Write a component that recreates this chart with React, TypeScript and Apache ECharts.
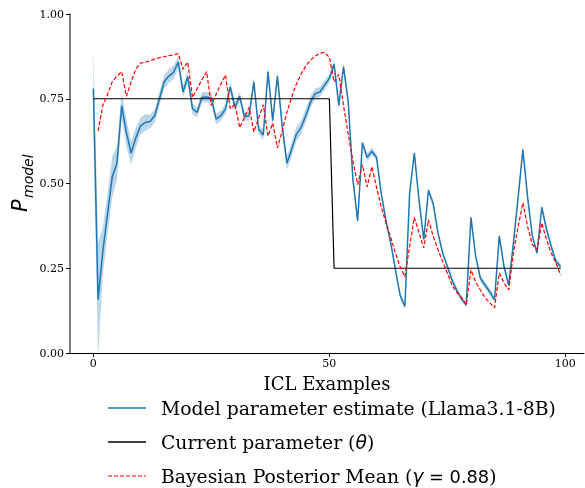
import React, { useEffect, useRef } from "react";
import * as echarts from "echarts";

const modelEstimate = [
  0.78, 0.157, 0.3, 0.41, 0.52, 0.56, 0.73, 0.65, 0.59, 0.635,
  0.67, 0.68, 0.683, 0.7, 0.75, 0.8, 0.817, 0.828, 0.858, 0.77,
  0.815, 0.72, 0.71, 0.754, 0.755, 0.752, 0.69, 0.7, 0.72, 0.785,
  0.725, 0.757, 0.697, 0.7, 0.8, 0.66, 0.643, 0.83, 0.685, 0.817,
  0.67, 0.56, 0.6, 0.645, 0.665, 0.7, 0.74, 0.765, 0.77, 0.79,
  0.81, 0.852, 0.73, 0.845, 0.74, 0.51, 0.39, 0.62, 0.577, 0.595,
  0.577, 0.47, 0.39, 0.325, 0.245, 0.17, 0.137, 0.47, 0.59, 0.45,
  0.335, 0.48, 0.44, 0.355, 0.295, 0.255, 0.215, 0.185, 0.16, 0.142,
  0.4, 0.285, 0.22, 0.2, 0.18, 0.157, 0.345, 0.255, 0.2, 0.325,
  0.46, 0.6, 0.46, 0.345, 0.295, 0.43, 0.365, 0.315, 0.27, 0.255,
];

const modelCI = [
  0.12, 0.17, 0.07, 0.06, 0.06, 0.05, 0.04, 0.04, 0.035, 0.03,
  0.025, 0.025, 0.02, 0.02, 0.02, 0.02, 0.02, 0.02, 0.018, 0.018,
  0.016, 0.016, 0.016, 0.015, 0.015, 0.015, 0.015, 0.015, 0.015, 0.015,
  0.014, 0.014, 0.014, 0.014, 0.014, 0.014, 0.014, 0.014, 0.014, 0.014,
  0.018, 0.02, 0.02, 0.02, 0.02, 0.02, 0.018, 0.016, 0.015, 0.014,
  0.012, 0.012, 0.01, 0.01, 0.01, 0.01, 0.01, 0.01, 0.012, 0.012,
  0.01, 0.008, 0.008, 0.008, 0.008, 0.008, 0.008, 0.008, 0.008, 0.008,
  0.008, 0.01, 0.01, 0.008, 0.008, 0.008, 0.008, 0.008, 0.008, 0.008,
  0.008, 0.008, 0.01, 0.01, 0.01, 0.008, 0.008, 0.008, 0.008, 0.008,
  0.008, 0.01, 0.008, 0.008, 0.008, 0.008, 0.008, 0.008, 0.01, 0.01,
];

const posteriorStart = 1;
const posteriorMean = [
  0.655, 0.73, 0.763, 0.8, 0.817, 0.83, 0.757, 0.8, 0.837,
  0.855, 0.858, 0.862, 0.867, 0.871, 0.874, 0.877, 0.879, 0.883, 0.837,
  0.858, 0.754, 0.78, 0.806, 0.83, 0.73, 0.763, 0.793, 0.82, 0.72,
  0.735, 0.665, 0.695, 0.724, 0.652, 0.692, 0.732, 0.64, 0.678, 0.605,
  0.655, 0.71, 0.754, 0.793, 0.822, 0.847, 0.864, 0.876, 0.884, 0.887,
  0.872, 0.8, 0.822, 0.73, 0.645, 0.565, 0.497, 0.556, 0.49, 0.55,
  0.488, 0.43, 0.384, 0.34, 0.295, 0.255, 0.225, 0.314, 0.4, 0.355,
  0.31, 0.393, 0.344, 0.305, 0.27, 0.236, 0.2, 0.178, 0.163, 0.142,
  0.245, 0.21, 0.186, 0.163, 0.148, 0.133, 0.236, 0.207, 0.186, 0.296,
  0.373, 0.443, 0.373, 0.32, 0.305, 0.384, 0.334, 0.295, 0.266, 0.23,
];

const thetaPhaseStart = [0, 51];
const thetaPhaseValue = [0.75, 0.25];

const xTicks = [0, 50, 100];
const yTicks = [0, 0.25, 0.5, 0.75, 1.0];

const BLUE = "#1f77b4";
const SERIF = '"DejaVu Serif", serif';

export default function App() {
  const ref = useRef<HTMLDivElement>(null);

  useEffect(() => {
    if (!ref.current) return;
    const chart = echarts.init(ref.current, null, { renderer: "svg" });

    const xs = modelEstimate.map((_, i) => i);
    const thetaAt = (i: number) => {
      let v = thetaPhaseValue[0];
      thetaPhaseStart.forEach((s, k) => {
        if (i >= s) v = thetaPhaseValue[k];
      });
      return v;
    };

    const blue = xs.map((i) => [i, modelEstimate[i]]);
    const theta = xs.map((i) => [i, thetaAt(i)]);
    const red = posteriorMean.map((v, k) => [posteriorStart + k, v]);
    const bandData = xs.map((i) => [i, modelEstimate[i] - modelCI[i], modelEstimate[i] + modelCI[i]]);

    const legendRows = [408, 442, 476];
    const legendX0 = 108;
    const legendX1 = 146;
    const legendTX = 161;
    const LFS = 18.8;

    chart.setOption({
      animation: false,
      grid: { left: 70, right: 1, top: 14, bottom: 135 },
      xAxis: {
        type: "value",
        min: -4.95,
        max: 103.95,
        name: "ICL Examples",
        nameLocation: "middle",
        nameGap: 21,
        nameTextStyle: { fontFamily: SERIF, fontSize: 18, color: "#000" },
        axisLine: { show: true, onZero: false, lineStyle: { color: "#000", width: 1 } },
        axisTick: {
          show: true,
          inside: false,
          length: 4,
          customValues: xTicks,
          lineStyle: { color: "#000", width: 1 },
        },
        axisLabel: {
          customValues: xTicks,
          fontFamily: SERIF,
          fontSize: 11,
          color: "#000",
          margin: 5,
        },
        splitLine: { show: false },
      },
      yAxis: {
        type: "value",
        min: 0,
        max: 1,
        interval: 0.25,
        axisLine: { show: true, onZero: false, lineStyle: { color: "#555", width: 1.5 } },
        axisTick: { show: true, inside: false, length: 4, lineStyle: { color: "#000", width: 1 } },
        axisLabel: {
          fontFamily: SERIF,
          fontSize: 11,
          color: "#000",
          margin: 6,
          formatter: (v: number) => (yTicks.includes(v) ? v.toFixed(2) : ""),
        },
        splitLine: { show: false },
      },
      series: [
        {
          type: "custom",
          silent: true,
          clip: true,
          data: [[0]],
          encode: { x: 0, y: 0 },
          renderItem: (params: any, api: any) => {
            const pts: number[][] = [];
            bandData.forEach((d) => pts.push(api.coord([d[0], d[2]])));
            for (let k = bandData.length - 1; k >= 0; k--) {
              const d = bandData[k];
              pts.push(api.coord([d[0], d[1]]));
            }
            const cs = params.coordSys;
            return {
              type: "polygon",
              shape: { points: pts },
              style: { fill: "rgba(31,119,180,0.3)", stroke: "none" },
              clipPath: {
                type: "rect",
                shape: { x: cs.x, y: cs.y, width: cs.width, height: cs.height },
              },
            };
          },
          z: 1,
        },
        {
          name: "Model parameter estimate (Llama3.1-8B)",
          type: "line",
          data: blue,
          symbol: "none",
          lineStyle: { color: BLUE, width: 1.5 },
          z: 2,
        },
        {
          name: "Current parameter",
          type: "line",
          data: theta,
          symbol: "none",
          lineStyle: { color: "#000", width: 1.2 },
          z: 3,
        },
        {
          name: "Bayesian Posterior Mean",
          type: "line",
          data: red,
          symbol: "none",
          lineStyle: { color: "#ff0000", width: 1.2, type: [4, 2] },
          z: 4,
        },
      ],
      graphic: [
        {
          type: "group",
          x: 30,
          y: 212,
          rotation: Math.PI / 2,
          children: [
            {
              type: "text",
              x: 0,
              y: 0,
              style: {
                text: "P",
                fontFamily: '"DejaVu Sans", sans-serif',
                fontStyle: "italic",
                fontSize: 21,
                fill: "#000",
                align: "left",
                verticalAlign: "bottom",
                textAlign: "left",
                textVerticalAlign: "bottom",
              },
            },
            {
              type: "text",
              x: 14,
              y: 5,
              style: {
                text: "model",
                fontFamily: '"DejaVu Sans", sans-serif',
                fontStyle: "italic",
                fontSize: 14,
                fill: "#000",
                align: "left",
                verticalAlign: "bottom",
                textAlign: "left",
                textVerticalAlign: "bottom",
              },
            },
          ],
        },
        {
          type: "line",
          shape: { x1: legendX0, y1: legendRows[0], x2: legendX1, y2: legendRows[0] },
          style: { stroke: BLUE, lineWidth: 1.5 },
        },
        {
          type: "line",
          shape: { x1: legendX0, y1: legendRows[1], x2: legendX1, y2: legendRows[1] },
          style: { stroke: "#000", lineWidth: 1.5 },
        },
        {
          type: "line",
          shape: { x1: legendX0, y1: legendRows[2], x2: legendX1, y2: legendRows[2] },
          style: { stroke: "#ff0000", lineWidth: 1.2, lineDash: [4, 2] },
        },
        {
          type: "text",
          x: legendTX,
          y: legendRows[0],
          style: {
            text: "Model parameter estimate (Llama3.1-8B)",
            fontFamily: SERIF,
            fontSize: LFS,
            fill: "#000",
            verticalAlign: "middle",
            textVerticalAlign: "middle",
          },
        },
        {
          type: "text",
          x: legendTX,
          y: legendRows[1],
          style: {
            text: "{n|Current parameter (}{m|θ}{n|)}",
            rich: {
              n: { fontFamily: SERIF, fontSize: LFS, fill: "#000", color: "#000" },
              m: {
                fontFamily: '"DejaVu Sans", sans-serif',
                fontStyle: "italic",
                fontSize: LFS,
                fill: "#000",
                color: "#000",
              },
            },
            verticalAlign: "middle",
            textVerticalAlign: "middle",
          },
        },
        {
          type: "text",
          x: legendTX,
          y: legendRows[2],
          style: {
            text: "{n|Bayesian Posterior Mean (}{m|γ}{k| = 0.88}{n|)}",
            rich: {
              n: { fontFamily: SERIF, fontSize: LFS, fill: "#000", color: "#000" },
              m: {
                fontFamily: '"DejaVu Sans", sans-serif',
                fontStyle: "italic",
                fontSize: LFS,
                fill: "#000",
                color: "#000",
              },
              k: {
                fontFamily: '"DejaVu Sans", sans-serif',
                fontSize: LFS - 1,
                fill: "#000",
                color: "#000",
              },
            },
            verticalAlign: "middle",
            textVerticalAlign: "middle",
          },
        },
      ],
    });

    return () => chart.dispose();
  }, []);

  return (
    <div
      ref={ref}
      style={{ position: "fixed", left: 0, top: 0, width: 585, height: 488 }}
    />
  );
}
